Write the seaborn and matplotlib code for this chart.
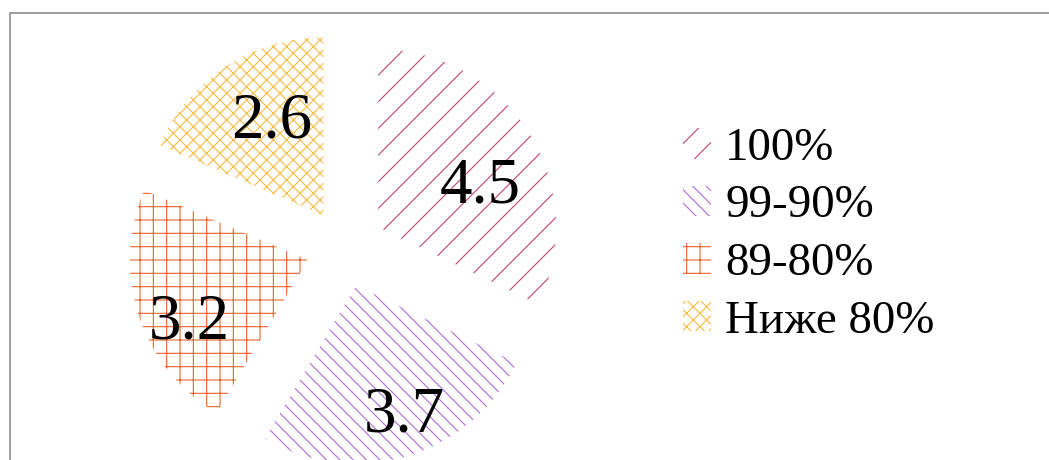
import matplotlib
matplotlib.use("Agg")
import matplotlib.pyplot as plt
import seaborn as sns
from matplotlib.lines import Line2D
from matplotlib.transforms import offset_copy

# data
categories = ["100%", "99-90%", "89-80%", "Ниже 80%"]
values = [4.5, 3.7, 3.2, 2.6]
colors = ["#c4456f", "#b36dd3", "#e8652d", "#f6bb45"]
hatches = ["/", "\\\\", "+", "xx"]

sns.set_theme(style="white")
plt.rcParams["font.family"] = ["Liberation Serif", "DejaVu Serif"]
plt.rcParams["hatch.linewidth"] = 1.0
plt.rcParams["text.color"] = "black"

# lower dpi -> finer hatch cells
DPI = 80
W, H = 1049, 460
px = 72.0 / DPI  # points per pixel
fig = plt.figure(figsize=(W / DPI, H / DPI), dpi=DPI)
ax = fig.add_axes([0, 0, 1, 1])

total = sum(values)
wedges, texts, autotexts = ax.pie(
    values,
    startangle=90,
    counterclock=False,
    explode=[0.22] * len(values),
    colors=["none"] * len(values),
    autopct=lambda p: f"{p * total / 100:.1f}",
    pctdistance=0.7,
    textprops={"fontsize": 65 * px, "color": "black"},
    wedgeprops={"linewidth": 0},
)
for w, c, h in zip(wedges, colors, hatches):
    w.set_edgecolor(c)
    w.set_hatch(h)
    w.set_linewidth(0)

# small nudges of the value labels (pixels, right / down)
label_dx = [-3, 12, 0, 17]
label_dy = [26, 11, 24, 10]
for t, dx, dy in zip(autotexts, label_dx, label_dy):
    t.set_transform(offset_copy(ax.transData, fig=fig, x=dx * px, y=-dy * px, units="points"))

# pie radius 178 px, centre at (345, 248) px from top-left
r, cx, cy = 178.0, 345.0, 248.0
ax.set_xlim(-cx / r, (W - cx) / r)
ax.set_ylim(-(H - cy) / r, cy / r)
ax.set_aspect("auto")
ax.axis("off")

leg = fig.legend(
    wedges,
    categories,
    loc="center left",
    bbox_to_anchor=(683 / W, 1 - 235 / H),
    frameon=False,
    fontsize=47 * px,
    handlelength=0.6,
    handleheight=0.62,
    handletextpad=0.3,
    labelspacing=0.32,
    borderpad=0,
    borderaxespad=0,
)
for t in leg.get_texts():
    t.set_color("black")

# grey frame (top and left visible)
lc = "#a0a0a0"
fig.add_artist(Line2D([10 / W, 1.0], [1 - 13 / H, 1 - 13 / H], color=lc, lw=2 * px,
                      transform=fig.transFigure))
fig.add_artist(Line2D([10 / W, 10 / W], [0, 1 - 13 / H], color=lc, lw=2 * px,
                      transform=fig.transFigure))

fig.savefig("out.png", dpi=DPI)
